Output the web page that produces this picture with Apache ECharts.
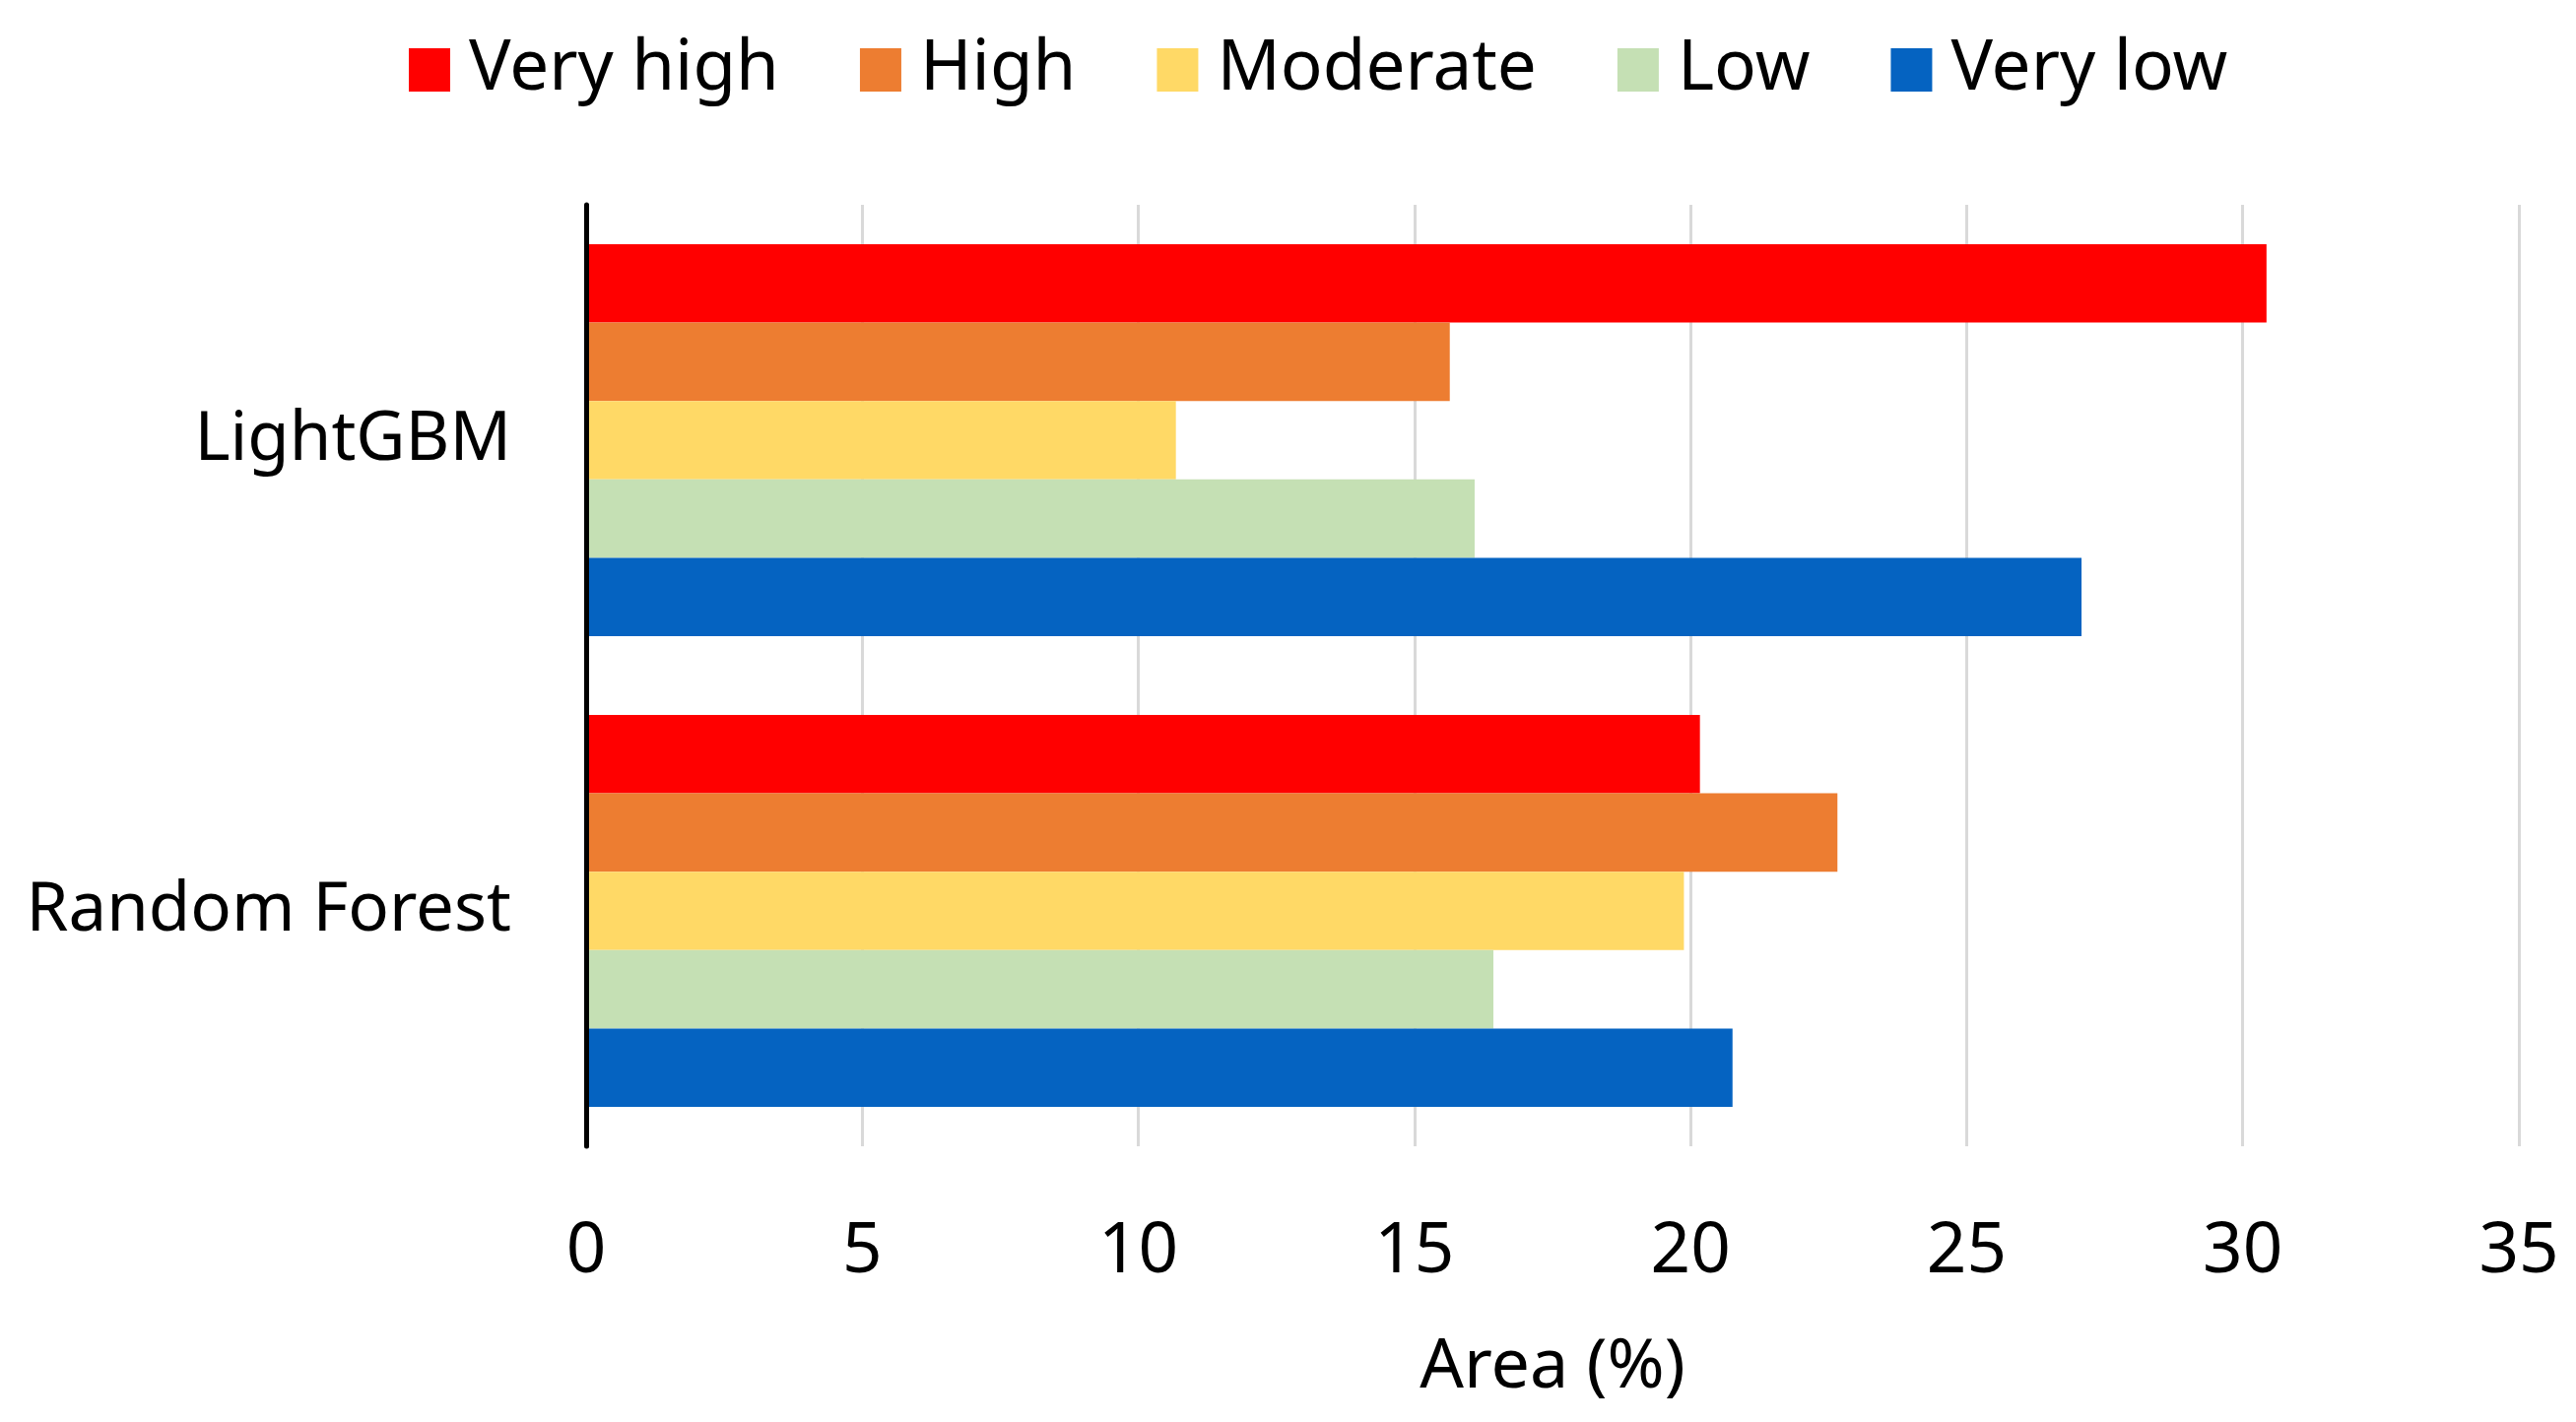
<!DOCTYPE html>
<html>
<head>
<meta charset="utf-8">
<script src="https://cdn.jsdelivr.net/npm/echarts@6/dist/echarts.min.js"></script>
<style>
html,body{margin:0;padding:0;background:#fff;}
#chart{width:2615px;height:1444px;}
</style>
</head>
<body>
<div id="chart"></div>
<script>
const categories = ['LightGBM', 'Random Forest'];
const seriesNames = ['Very high', 'High', 'Moderate', 'Low', 'Very low'];
const veryHigh = [30.43, 20.17];
const high = [15.64, 22.66];
const moderate = [10.68, 19.88];
const low = [16.09, 16.43];
const veryLow = [27.08, 20.76];
const xTicks = [0, 5, 10, 15, 20, 25, 30, 35];
const colors = ['#FF0000', '#ED7D31', '#FFD966', '#C5E0B4', '#0563C1'];

const values = [veryHigh, high, moderate, low, veryLow];
const FONT = 'Noto Sans';

const chart = echarts.init(document.getElementById('chart'));
chart.setOption({
  backgroundColor: '#ffffff',
  animation: false,
  color: colors,
  textStyle: { fontFamily: FONT },
  legend: {
    top: 30,
    left: 410,
    itemWidth: 42,
    itemHeight: 44,
    itemGap: 82,
    icon: 'rect',
    data: seriesNames,
    textStyle: { fontFamily: FONT, fontSize: 71, color: '#000', lineHeight: 72, padding: [0, 0, 0, 14] }
  },
  grid: { left: 595, right: 58, top: 208, bottom: 280 },
  xAxis: {
    type: 'value',
    min: xTicks[0],
    max: xTicks[xTicks.length - 1],
    interval: 5,
    name: 'Area (%)',
    nameLocation: 'middle',
    nameGap: 190,
    nameTextStyle: { fontFamily: FONT, fontSize: 70, color: '#000' },
    axisLine: { show: false },
    axisTick: { show: false },
    axisLabel: { fontFamily: FONT, fontSize: 71, color: '#000', margin: 72 },
    splitLine: { show: true, lineStyle: { color: '#d9d9d9', width: 3 } }
  },
  yAxis: {
    type: 'category',
    inverse: true,
    z: 5,
    data: categories,
    axisLine: { show: true, lineStyle: { color: '#000', width: 5 } },
    axisTick: { show: false },
    axisLabel: { fontFamily: FONT, fontSize: 69, color: '#000', margin: 76 },
    splitLine: { show: false }
  },
  series: seriesNames.map((name, i) => ({
    name: name,
    type: 'bar',
    data: values[i],
    barGap: '0%',
    barCategoryGap: '16.7%',
    itemStyle: { color: colors[i] }
  }))
});
</script>
</body>
</html>
